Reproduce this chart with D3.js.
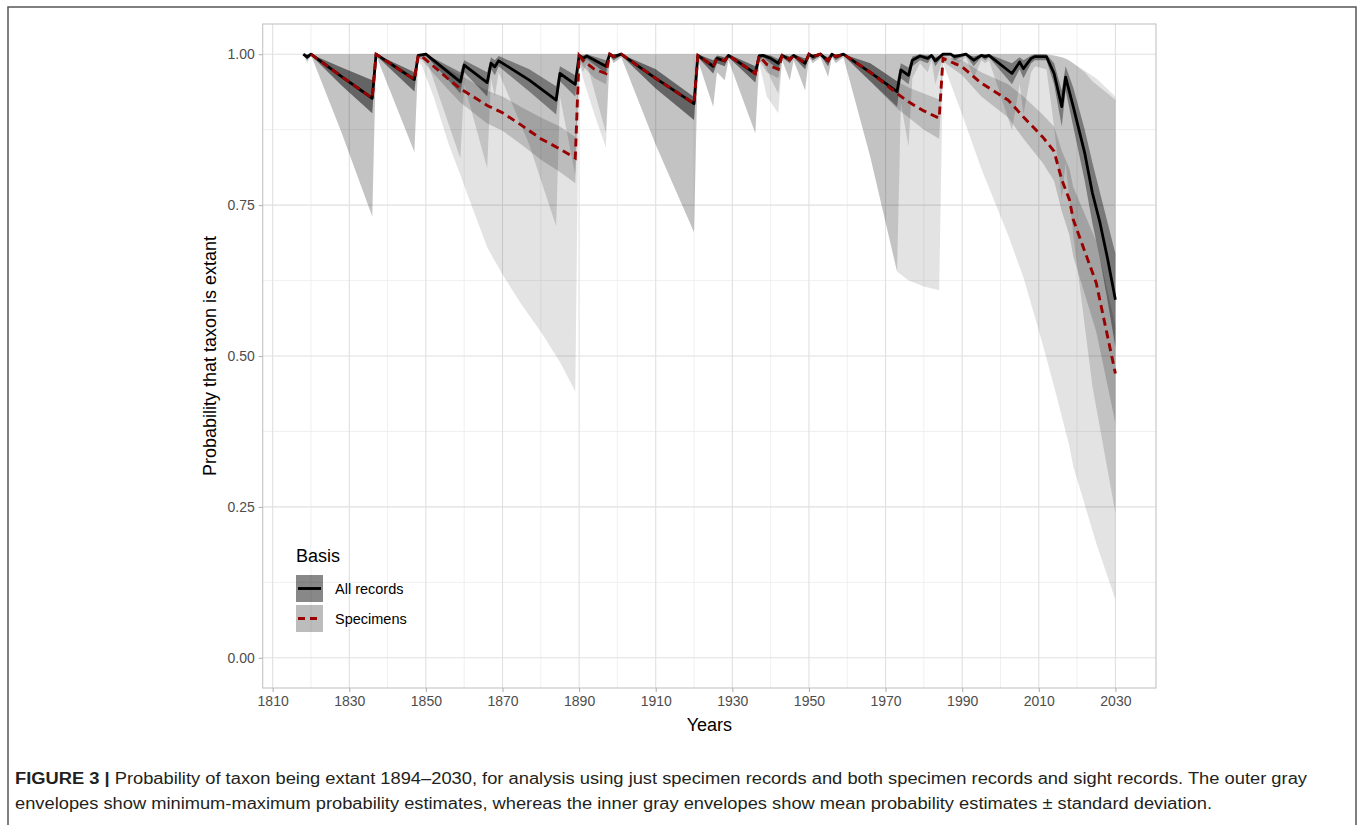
<!DOCTYPE html>
<html><head><meta charset="utf-8">
<script src="https://cdn.jsdelivr.net/npm/d3@7"></script>
<style>
html,body{margin:0;padding:0;background:#fff;}
svg{display:block;font-family:"Liberation Sans",Arial,sans-serif;}
</style></head><body>
<svg id="chart" width="1363" height="825"></svg>
<script>
// ---------- DATA ----------
const xTicks = [1810,1830,1850,1870,1890,1910,1930,1950,1970,1990,2010,2030];
const yTicks = [0,0.25,0.5,0.75,1];
const seriesNames = ["All records","Specimens"];

// All records (sight + specimen)
const allYears = [1818,1819,1820,1828,1836,1837,1847,1848,1850,1859,1860,1866,1867,1868,1869,1877,1884,1885,1889,1890,1891,1892,1897,1898,1899,1901,1910,1920,1921,1925,1926,1928,1929,1936,1937,1938,1940,1942,1943,1945,1946,1949,1950,1951,1953,1955,1956,1957,1959,1966,1973,1974,1976,1977,1979,1981,1982,1983,1985,1987,1988,1991,1993,1995,1996,1997,2003,2005,2006,2008,2009,2012,2014,2016,2017,2019,2022,2024,2026,2028,2030];
const allMean  = [1.000,0.995,1.000,0.963,0.927,1.000,0.958,0.998,1.000,0.954,0.982,0.953,0.985,0.979,0.989,0.957,0.924,0.968,0.950,0.998,0.993,0.997,0.980,1.000,0.996,1.000,0.960,0.918,0.998,0.980,0.993,0.989,0.998,0.968,0.997,0.998,0.993,0.985,0.998,0.991,0.998,0.985,1.000,0.996,1.000,0.989,1.000,0.996,1.000,0.970,0.938,0.974,0.965,0.990,0.997,0.993,0.998,0.989,1.000,1.000,0.996,1.000,0.990,0.998,0.996,0.998,0.968,0.987,0.976,0.993,0.996,0.996,0.968,0.913,0.962,0.913,0.836,0.770,0.720,0.660,0.593];
const allSdLo  = [1.000,0.990,0.998,0.948,0.902,0.998,0.938,0.995,0.998,0.935,0.970,0.930,0.975,0.965,0.980,0.938,0.900,0.955,0.930,0.995,0.985,0.992,0.968,0.998,0.990,0.998,0.943,0.891,0.995,0.968,0.985,0.980,0.995,0.953,0.990,0.995,0.985,0.975,0.995,0.985,0.995,0.975,0.998,0.990,0.998,0.980,0.998,0.990,0.998,0.955,0.913,0.960,0.950,0.980,0.990,0.985,0.995,0.980,0.998,0.998,0.990,0.998,0.980,0.995,0.990,0.995,0.950,0.975,0.960,0.985,0.990,0.990,0.950,0.880,0.940,0.880,0.790,0.720,0.660,0.590,0.515];
const allSdHi  = [1.000,1.000,1.000,0.978,0.957,1.000,0.970,1.000,1.000,0.970,0.990,0.970,0.995,0.990,0.997,0.975,0.947,0.980,0.965,1.000,0.998,1.000,0.990,1.000,1.000,1.000,0.975,0.929,1.000,0.990,0.998,0.995,1.000,0.980,1.000,1.000,0.998,0.992,1.000,0.996,1.000,0.993,1.000,1.000,1.000,0.995,1.000,1.000,1.000,0.985,0.955,0.985,0.978,0.996,1.000,0.998,1.000,0.995,1.000,1.000,1.000,1.000,0.996,1.000,1.000,1.000,0.985,0.995,0.990,0.998,1.000,1.000,0.985,0.940,0.980,0.945,0.875,0.820,0.770,0.720,0.670];
const allMin   = [1.000,0.985,0.998,0.870,0.731,0.998,0.838,0.990,0.995,0.827,0.950,0.811,0.960,0.930,0.970,0.850,0.715,0.930,0.800,0.990,0.970,0.985,0.870,0.998,0.985,0.995,0.850,0.705,0.990,0.913,0.970,0.957,0.990,0.869,0.985,0.990,0.960,0.935,0.990,0.957,0.990,0.940,0.995,0.985,0.995,0.962,0.995,0.985,0.995,0.830,0.640,0.920,0.847,0.960,0.985,0.970,0.990,0.950,0.995,0.995,0.980,0.995,0.960,0.990,0.985,0.990,0.874,0.950,0.900,0.970,0.980,0.975,0.880,0.760,0.820,0.700,0.550,0.450,0.380,0.310,0.240];
const allMax   = [1,1,1,1,1,1,1,1,1,1,1,1,1,1,1,1,1,1,1,1,1,1,1,1,1,1,1,1,1,1,1,1,1,1,1,1,1,1,1,1,1,1,1,1,1,1,1,1,1,1,1,1,1,1,1,1,1,1,1,1,1,1,1,1,1,1,1,1,1,1,1,1,0.998,0.995,0.993,0.985,0.970,0.955,0.945,0.935,0.924];

// Specimens only
const specYears = [1820,1828,1836,1837,1847,1848,1849,1852,1856,1859,1861,1866,1870,1875,1880,1885,1889,1890,1891,1894,1897,1898,1899,1901,1910,1920,1921,1925,1926,1928,1929,1936,1937,1939,1942,1943,1945,1946,1949,1950,1951,1953,1955,1956,1957,1959,1966,1973,1976,1980,1984,1985,1990,1995,2002,2006,2011,2014,2016,2018,2019,2025,2030];
const specMean = [1.000,0.963,0.927,1.000,0.958,0.998,0.996,0.980,0.958,0.943,0.935,0.915,0.903,0.882,0.860,0.843,0.828,0.998,0.990,0.975,0.968,1.000,0.996,1.000,0.960,0.918,0.998,0.980,0.993,0.989,0.998,0.968,0.997,0.983,0.975,0.998,0.991,0.998,0.985,1.000,0.996,1.000,0.989,1.000,0.996,1.000,0.970,0.935,0.921,0.906,0.894,0.993,0.979,0.952,0.924,0.896,0.863,0.839,0.792,0.759,0.726,0.621,0.471];
const specSdLo = [1.000,0.948,0.902,0.998,0.938,0.995,0.990,0.968,0.940,0.920,0.910,0.885,0.873,0.850,0.825,0.805,0.786,0.995,0.980,0.960,0.950,0.998,0.990,0.998,0.943,0.891,0.995,0.968,0.985,0.980,0.995,0.953,0.990,0.970,0.960,0.995,0.985,0.995,0.975,0.998,0.990,0.998,0.980,0.998,0.990,0.998,0.955,0.910,0.895,0.875,0.860,0.988,0.965,0.930,0.895,0.860,0.820,0.790,0.740,0.700,0.665,0.540,0.389];
const specSdHi = [1.000,0.978,0.957,1.000,0.970,1.000,1.000,0.990,0.975,0.965,0.958,0.940,0.930,0.912,0.895,0.880,0.863,1.000,0.997,0.988,0.982,1.000,1.000,1.000,0.975,0.929,1.000,0.990,0.998,0.995,1.000,0.980,1.000,0.992,0.988,1.000,0.996,1.000,0.993,1.000,1.000,1.000,0.995,1.000,1.000,1.000,0.985,0.955,0.945,0.935,0.925,0.997,0.990,0.970,0.950,0.930,0.900,0.880,0.840,0.810,0.780,0.690,0.550];
const specMin  = [1.000,0.870,0.731,0.998,0.838,0.990,0.980,0.930,0.850,0.800,0.765,0.680,0.635,0.585,0.540,0.490,0.441,0.990,0.960,0.900,0.845,0.998,0.985,0.995,0.850,0.705,0.990,0.913,0.970,0.957,0.990,0.869,0.985,0.930,0.902,0.990,0.957,0.990,0.940,0.995,0.985,0.995,0.962,0.995,0.985,0.995,0.830,0.640,0.625,0.615,0.609,0.985,0.900,0.810,0.700,0.630,0.520,0.449,0.400,0.350,0.317,0.190,0.096];
const specMax  = [1,1,1,1,1,1,1,1,1,1,1,1,1,1,1,1,1,1,1,1,1,1,1,1,1,1,1,1,1,1,1,1,1,1,1,1,1,1,1,1,1,1,1,1,1,1,1,1,1,1,1,1,1,1,1,1,1,0.998,0.995,0.990,0.985,0.960,0.930];

// ---------- CHART ----------
const svg = d3.select("#chart");
const W = 1363, H = 825;

// outer figure frame
svg.append("rect").attr("x",8).attr("y",7).attr("width",1348).attr("height",H+20)
  .attr("fill","none").attr("stroke","#555").attr("stroke-width",1.5);

const panel = {l:262.7, r:1156, t:24, b:688};
const x = d3.scaleLinear().domain([1807.4, 2040.6]).range([panel.l, panel.r]);
const y = d3.scaleLinear().domain([-0.05, 1.05]).range([panel.b, panel.t]);

const g = svg.append("g");

// grid
const xMinor = d3.range(1820, 2040, 20);
const yMinor = [0.125,0.375,0.625,0.875];
g.selectAll(".xmin").data(xMinor).enter().append("line")
  .attr("x1",d=>x(d)).attr("x2",d=>x(d)).attr("y1",panel.t).attr("y2",panel.b)
  .attr("stroke","#ececec").attr("stroke-width",0.8);
g.selectAll(".ymin").data(yMinor).enter().append("line")
  .attr("y1",d=>y(d)).attr("y2",d=>y(d)).attr("x1",panel.l).attr("x2",panel.r)
  .attr("stroke","#ececec").attr("stroke-width",0.8);
g.selectAll(".xmaj").data(xTicks).enter().append("line")
  .attr("x1",d=>x(d)).attr("x2",d=>x(d)).attr("y1",panel.t).attr("y2",panel.b)
  .attr("stroke","#e0e0e0").attr("stroke-width",1.1);
g.selectAll(".ymaj").data(yTicks).enter().append("line")
  .attr("y1",d=>y(d)).attr("y2",d=>y(d)).attr("x1",panel.l).attr("x2",panel.r)
  .attr("stroke","#e0e0e0").attr("stroke-width",1.1);

function rows(years, mean, lo, hi, mn, mx){
  return years.map((yr,i)=>({year:yr, mean:mean[i], sdLo:lo[i], sdHi:hi[i], min:mn[i], max:mx[i]}));
}
const allData = rows(allYears, allMean, allSdLo, allSdHi, allMin, allMax);
const specData = rows(specYears, specMean, specSdLo, specSdHi, specMin, specMax);

const styles = {
  all:  {mm:0.14, sd:0.38},
  spec: {mm:0.11, sd:0.17}
};

const areaMM = d3.area().x(d=>x(d.year)).y0(d=>y(d.min)).y1(d=>y(d.max));
const areaSD = d3.area().x(d=>x(d.year)).y0(d=>y(d.sdLo)).y1(d=>y(d.sdHi));
const line = d3.line().x(d=>x(d.year)).y(d=>y(d.mean));

g.append("path").datum(allData).attr("d",areaMM).attr("fill","#000").attr("fill-opacity",styles.all.mm);
g.append("path").datum(specData).attr("d",areaMM).attr("fill","#000").attr("fill-opacity",styles.spec.mm);
g.append("path").datum(allData).attr("d",areaSD).attr("fill","#000").attr("fill-opacity",styles.all.sd);
g.append("path").datum(specData).attr("d",areaSD).attr("fill","#000").attr("fill-opacity",styles.spec.sd);

g.append("path").datum(allData).attr("d",line).attr("fill","none")
  .attr("stroke","#000").attr("stroke-width",2.8).attr("stroke-linejoin","round");
g.append("path").datum(specData).attr("d",line).attr("fill","none")
  .attr("stroke","#990000").attr("stroke-width",2.9).attr("stroke-dasharray","8,5");

// panel border
g.append("rect").attr("x",panel.l).attr("y",panel.t).attr("width",panel.r-panel.l).attr("height",panel.b-panel.t)
  .attr("fill","none").attr("stroke","#c4c4c4").attr("stroke-width",1.1);

// axes
const xAxis = d3.axisBottom(x).tickValues(xTicks).tickFormat(d3.format("d")).tickSize(4).tickPadding(4);
const yAxis = d3.axisLeft(y).tickValues(yTicks).tickFormat(d3.format(".2f")).tickSize(4).tickPadding(4);
const gx = svg.append("g").attr("transform",`translate(0,${panel.b})`).call(xAxis);
const gy = svg.append("g").attr("transform",`translate(${panel.l},0)`).call(yAxis);
[gx,gy].forEach(a=>{
  a.select(".domain").remove();
  a.selectAll(".tick line").attr("stroke","#b3b3b3").attr("stroke-width",1.1);
  a.selectAll(".tick text").attr("fill","#4d4d4d").style("font-size","14px")
   .style("font-family","'Liberation Sans',Arial,sans-serif");
});

// axis titles
svg.append("text").attr("x",(panel.l+panel.r)/2).attr("y",731).attr("text-anchor","middle")
  .style("font-size","18px").attr("fill","#000").text("Years");
svg.append("text").attr("transform",`translate(216,${(panel.t+panel.b)/2}) rotate(-90)`).attr("text-anchor","middle")
  .style("font-size","18px").attr("fill","#000").text("Probability that taxon is extant");

// legend
const lg = svg.append("g");
lg.append("text").attr("x",296).attr("y",562).style("font-size","18px").attr("fill","#000").text("Basis");
const keys = [
  {name:seriesNames[0], s:styles.all, stroke:"#000", dash:null, y:575},
  {name:seriesNames[1], s:styles.spec, stroke:"#990000", dash:"7,5", y:605}
];
keys.forEach(k=>{
  lg.append("rect").attr("x",296).attr("y",k.y).attr("width",27).attr("height",27)
    .attr("fill","#000").attr("fill-opacity",k.s.mm);
  lg.append("rect").attr("x",296).attr("y",k.y).attr("width",27).attr("height",27)
    .attr("fill","#000").attr("fill-opacity",k.s.sd);
  const ln = lg.append("line").attr("x1",298).attr("x2",321).attr("y1",k.y+13.5).attr("y2",k.y+13.5)
    .attr("stroke",k.stroke).attr("stroke-width",2.9);
  if(k.dash) ln.attr("stroke-dasharray",k.dash).attr("x1",298);
  lg.append("text").attr("x",335).attr("y",k.y+19).style("font-size","14.5px").attr("fill","#000").text(k.name);
});

// caption
const cap1 = svg.append("text").attr("x",15).attr("y",784).style("font-size","16px").attr("fill","#231f20");
cap1.append("tspan").style("font-weight","bold").text("FIGURE 3 | ");
cap1.append("tspan").text("Probability of taxon being extant 1894–2030, for analysis using just specimen records and both specimen records and sight records. The outer gray");
const cap2 = svg.append("text").attr("x",15).attr("y",809).style("font-size","16px").attr("fill","#231f20")
  .text("envelopes show minimum-maximum probability estimates, whereas the inner gray envelopes show mean probability estimates ± standard deviation.");
[[cap1,1292],[cap2,1197]].forEach(([t,w])=>{
  t.attr("textLength",w).attr("lengthAdjust","spacingAndGlyphs");
});
</script>
</body></html>
